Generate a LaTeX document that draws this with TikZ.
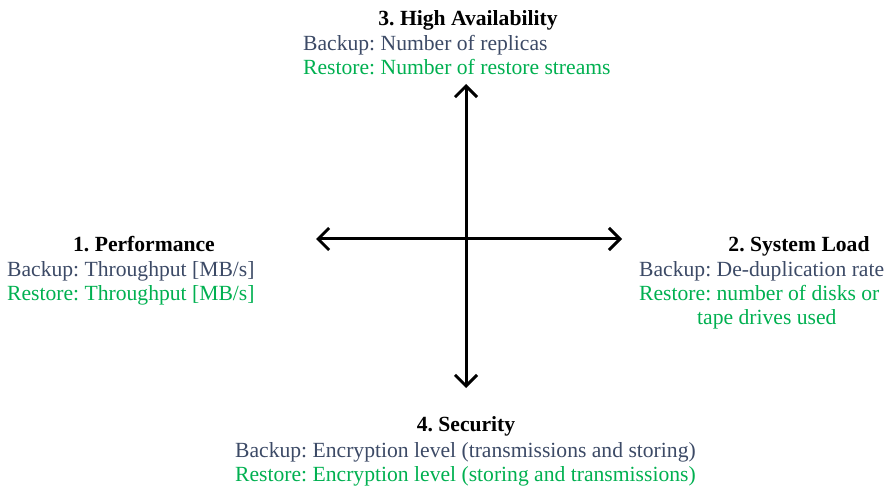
\documentclass[tikz,border=0pt]{standalone}
\usepackage{fontspec}
\setmainfont{Liberation Serif}
\usetikzlibrary{arrows.meta}
\definecolor{backupcol}{HTML}{3C4A66}
\definecolor{restorecol}{HTML}{00B050}
\frenchspacing
\tikzset{
  txt/.style={inner sep=0pt, font=\fontsize{21.7}{26}\selectfont},
  title/.style={txt, anchor=base, font=\fontsize{21.7}{26}\selectfont\bfseries},
  backup/.style={txt, anchor=base west, text=backupcol},
  restore/.style={txt, anchor=base west, text=restorecol},
  axis/.style={line width=3bp, {Straight Barb[length=11bp,width=22bp,line width=3bp]}-{Straight Barb[length=11bp,width=22bp,line width=3bp]}}
}
\begin{document}
\begin{tikzpicture}[x=1bp,y=-1bp]
\useasboundingbox (0,0) rectangle (889,490);

% axes
\coordinate (top) at (466,84);
\coordinate (bottom) at (466,388);
\coordinate (left) at (316,239);
\coordinate (right) at (622,239);
\draw[axis] (top) -- (bottom);
\draw[axis] (left) -- (right);

% 3. High Availability
\node[title] (t3) at (468,26) {3. High Availability};
\node[backup] (b3) at (303,51) {Backup: Number of replicas};
\node[restore] (r3) at (303,75) {Restore: Number of restore streams};

% 1. Performance
\node[title] (t1) at (144,252) {1. Performance};
\node[backup] (b1) at (7,277) {Backup: Throughput [MB/s]};
\node[restore] (r1) at (7,301) {Restore: Throughput [MB/s]};

% 2. System Load
\node[title] (t2) at (799,252) {2. System Load};
\node[backup] (b2) at (639,277) {Backup: De-duplication rate};
\node[restore] (r2) at (639,301) {Restore: number of disks or};
\node[restore] (r2b) at (697,325) {tape drives used};

% 4. Security
\node[title] (t4) at (466,431) {4. Security};
\node[backup] (b4) at (235,457) {Backup: Encryption level (transmissions and storing)};
\node[restore] (r4) at (235,481) {Restore: Encryption level (storing and transmissions)};
\end{tikzpicture}
\end{document}
